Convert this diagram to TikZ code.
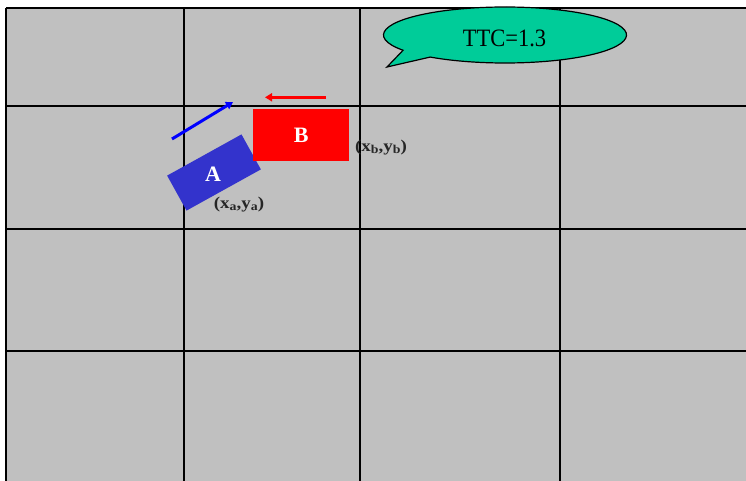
\documentclass[tikz,border=0pt]{standalone}
\usepackage{fontspec}
\usepackage{graphicx}
\setmainfont{Liberation Serif}
\usetikzlibrary{arrows.meta}
\definecolor{gridgray}{HTML}{C0C0C0}
\definecolor{carA}{HTML}{3333CC}
\definecolor{carB}{HTML}{FF0000}
\definecolor{velA}{HTML}{0000FF}
\definecolor{bubble}{HTML}{00CC99}
\newcommand{\possub}[1]{\raisebox{-0.25ex}{\fontsize{12}{12}\selectfont #1}}
\tikzset{
  gridline/.style={black, line width=1.4pt},
  car/.style={draw=none, inner sep=0pt, text=white, font=\bfseries\fontsize{22}{22}\selectfont},
  vel/.style={line width=3pt, -{Triangle[length=7pt,width=8pt]}},
  poslabel/.style={font=\bfseries\fontsize{16.5}{16.5}\selectfont, inner sep=0pt, text=black!85},
}
\begin{document}
\begin{tikzpicture}[x=1pt,y=1pt]
\useasboundingbox (0,0) rectangle (746,-481);
\fill[white] (0,0) rectangle (746,-481);
\fill[gridgray] (6,-8) rectangle (746,-481);
% grid
\foreach \gx in {6,184,360,560} \draw[gridline] (\gx,-8) -- (\gx,-481);
\foreach \gy in {8,106,229,351} \draw[gridline] (6,-\gy) -- (746,-\gy);
% bubble
\coordinate (tip) at (387,-67);
\filldraw[fill=bubble, draw=black, line width=1.2pt]
  (tip) -- ({505+121.5*cos(213)}, {-35+28*sin(213)})
  arc[start angle=213, end angle=-128, x radius=121.5, y radius=28] -- cycle;
\node[font=\fontsize{25}{25}\selectfont, inner sep=0pt] (ttc) at (504.5,-38) {\scalebox{0.9}[1]{TTC=1.3}};
% car A
\node[car, fill=carA, minimum width=85pt, minimum height=40pt, rotate=29] (A) at (214,-172.5) {};
\node[car] (Alabel) at (213,-174) {A};
% car B
\node[car, fill=carB, minimum width=96pt, minimum height=52pt] (B) at (301.3,-135.2) {B};
% velocity arrows
\coordinate (va0) at (172,-139);
\coordinate (va1) at (233,-102);
\draw[vel, velA] (va0) -- (va1);
\coordinate (vb0) at (326,-97.3);
\coordinate (vb1) at (265,-97.3);
\draw[vel, carB] (vb0) -- (vb1);
% position labels
\node[poslabel] (pb) at (381,-148) {\scalebox{1.15}[1]{(x\possub{b},y\possub{b})}};
\node[poslabel] (pa) at (239,-205) {\scalebox{1.15}[1]{(x\possub{a},y\possub{a})}};
\end{tikzpicture}
\end{document}
